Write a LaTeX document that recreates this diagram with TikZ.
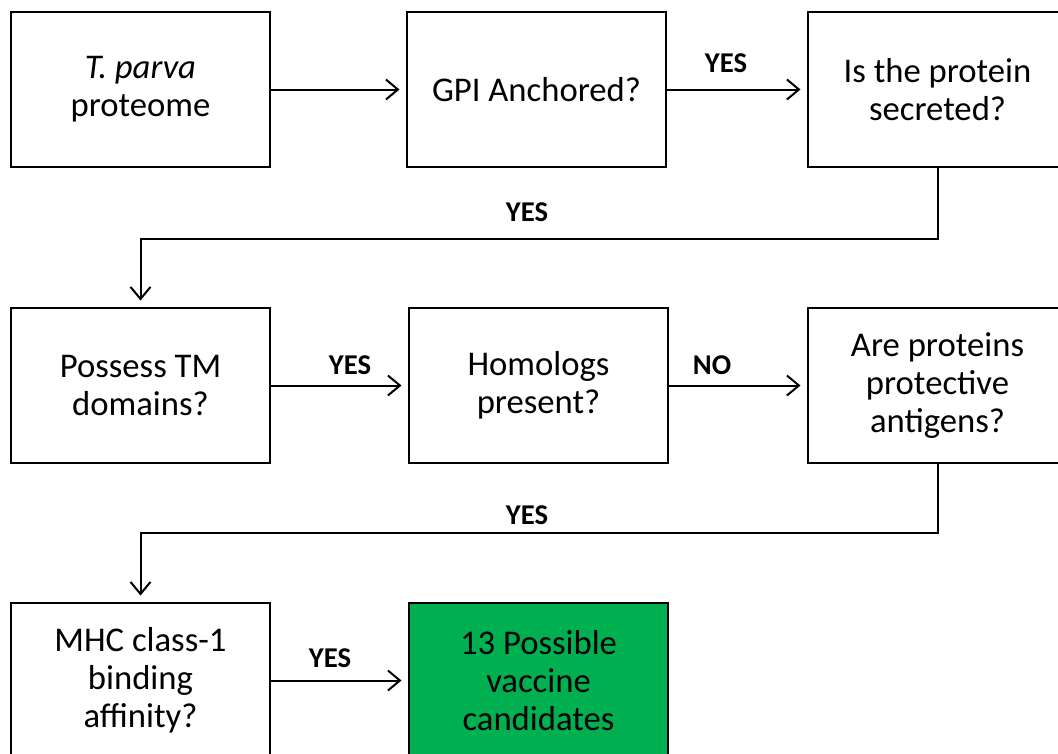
\documentclass[tikz,border=0pt]{standalone}
\usepackage{fontspec}
\setmainfont{Carlito}
\usetikzlibrary{arrows.meta}
\definecolor{vgreen}{HTML}{00B050}

\begin{document}
\begin{tikzpicture}[x=0.75pt,y=-0.75pt,
    box/.style={draw,line width=1.5pt,minimum width=194pt,minimum height=116pt,
      align=center,inner sep=2pt,font=\fontsize{26}{28.5}\selectfont},
    lbl/.style={font=\fontsize{21.5}{24}\selectfont\bfseries},
    arr/.style={line width=1.5pt,-{Straight Barb[length=9pt,width=15pt,line width=1.5pt]},shorten >=5pt}]
      \useasboundingbox (0,0) rectangle (1058,754);
      \clip (0,0) rectangle (1058,754);
      % Cajas fila 1
      \node[box] (prot) at (140.5,89.5)  {\textit{T. parva}\\proteome};
      \node[box] (gpi)  at (536.5,89.5)  {GPI Anchored?};
      \node[box] (sec)  at (937.5,89.5)  {Is the protein\\secreted?};
      % Cajas fila 2
      \node[box] (tm)   at (140.5,385.5) {Possess TM\\domains?};
      \node[box] (hom)  at (538.5,385.5) {Homologs\\present?};
      \node[box] (anti) at (937.5,385.5) {Are proteins\\protective\\antigens?};
      % Cajas fila 3
      \node[box] (mhc)  at (140.5,680.5) {MHC class-1\\binding\\affinity?};
      \node[box,fill=vgreen] (cand) at (538.5,680.5) {13 Possible\\vaccine\\candidates};
      % Flechas
      \draw[arr] (prot) -- (gpi);
      \draw[arr] (gpi) -- (sec);
      \draw[arr] (sec.south) -- ++(0,71) -| (tm.north);
      \draw[arr] (tm) -- (hom);
      \draw[arr] (hom) -- (anti);
      \draw[arr] (anti.south) -- ++(0,69) -| (mhc.north);
      \draw[arr] (mhc) -- (cand);
      % Etiquetas
      \node[lbl] (l1) at (726,63)  {YES};
      \node[lbl] (l2) at (527,212) {YES};
      \node[lbl] (l3) at (350,365) {YES};
      \node[lbl] (l4) at (712,365) {NO};
      \node[lbl] (l5) at (527,515) {YES};
      \node[lbl] (l6) at (330,658) {YES};
\end{tikzpicture}
\end{document}
